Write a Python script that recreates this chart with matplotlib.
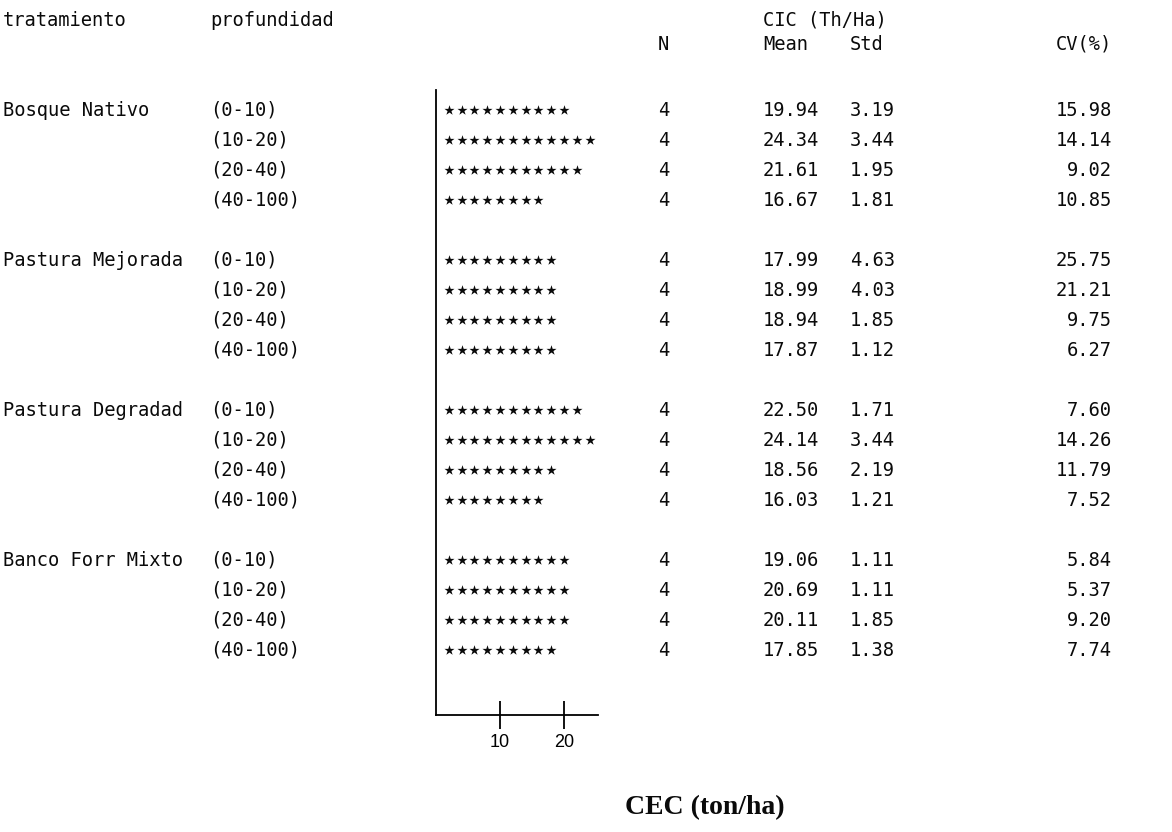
import numpy as np
import matplotlib
matplotlib.use("Agg")
import matplotlib.pyplot as plt

# Datos: CIC (Th/Ha) por tratamiento y profundidad
tratamientos = ['Bosque Nativo', 'Pastura Mejorada', 'Pastura Degradad', 'Banco Forr Mixto']
profundidades = ['(0-10)', '(10-20)', '(20-40)', '(40-100)']
n_obs = [4, 4, 4, 4, 4, 4, 4, 4, 4, 4, 4, 4, 4, 4, 4, 4]
media = [19.94, 24.34, 21.61, 16.67,
         17.99, 18.99, 18.94, 17.87,
         22.50, 24.14, 18.56, 16.03,
         19.06, 20.69, 20.11, 17.85]
desv = [3.19, 3.44, 1.95, 1.81,
        4.63, 4.03, 1.85, 1.12,
        1.71, 3.44, 2.19, 1.21,
        1.11, 1.11, 1.85, 1.38]
cv = [15.98, 14.14, 9.02, 10.85,
      25.75, 21.21, 9.75, 6.27,
      7.60, 14.26, 11.79, 7.52,
      5.84, 5.37, 9.20, 7.74]
ticks_x = [10, 20]
unidad_estrella = 2

W, H = 1172, 832
fig = plt.figure(figsize=(W / 100, H / 100), dpi=100)

# escala vertical en "lineas": linea 0 en y=110 px, 30 px por linea
y0, paso = 110, 30
def linea(px):
    return (px - y0) / paso

tab = fig.add_axes([0, 0, 1, 1])
tab.set_xlim(0, W)
tab.set_ylim(linea(H), linea(0))
tab.axis('off')

mono = dict(family='DejaVu Sans Mono', fontsize=13.5, color='#0a0a0a')

# encabezados
tab.text(3, -3.0, 'tratamiento', ha='left', va='center', **mono)
tab.text(210, -3.0, 'profundidad', ha='left', va='center', **mono)
tab.text(763, -3.0, 'CIC (Th/Ha)', ha='left', va='center', **mono)
tab.text(658, -2.2, 'N', ha='left', va='center', **mono)
tab.text(763, -2.2, 'Mean', ha='left', va='center', **mono)
tab.text(850, -2.2, 'Std', ha='left', va='center', **mono)
tab.text(1112, -2.2, 'CV(%)', ha='right', va='center', **mono)

# grafico de estrellas
ax0, ax1 = 436, 598
top_px, bot_px = 90, 715
ax = fig.add_axes([ax0 / W, 1 - bot_px / H, (ax1 - ax0) / W, (bot_px - top_px) / H])
ax.set_ylim(linea(bot_px), linea(top_px))
ax.set_xlim(0, (ax1 - ax0) / 6.4)
ax.patch.set_alpha(0)
for s in ['top', 'right']:
    ax.spines[s].set_visible(False)
ax.spines['left'].set_linewidth(1.3)
ax.spines['bottom'].set_linewidth(1.3)
ax.set_yticks([])
ax.set_xticks(ticks_x)
ax.set_xticklabels([str(t) for t in ticks_x], family='Liberation Sans', fontsize=13)
ax.tick_params(axis='x', direction='inout', length=20, width=1.3, pad=4)

i = 0
for g, trat in enumerate(tratamientos):
    for r, prof in enumerate(profundidades):
        L = 5 * g + r
        if r == 0:
            tab.text(3, L, trat, ha='left', va='center', **mono)
        tab.text(210, L, prof, ha='left', va='center', **mono)
        n_est = int(media[i] / unidad_estrella + 0.5)
        xs = unidad_estrella * np.arange(1, n_est + 1)
        ax.scatter(xs, np.full(n_est, L), marker='*', s=58, color='#0a0a0a',
                   linewidths=0, clip_on=False)
        tab.text(658, L, str(n_obs[i]), ha='left', va='center', **mono)
        tab.text(763, L, '%.2f' % media[i], ha='left', va='center', **mono)
        tab.text(850, L, '%.2f' % desv[i], ha='left', va='center', **mono)
        tab.text(1112, L, '%.2f' % cv[i], ha='right', va='center', **mono)
        i += 1

tab.text(705, linea(808), 'CEC (ton/ha)', ha='center', va='center',
         family='Liberation Serif', fontweight='bold', fontsize=20, color='#0a0a0a')

fig.savefig('out.png', dpi=100)
